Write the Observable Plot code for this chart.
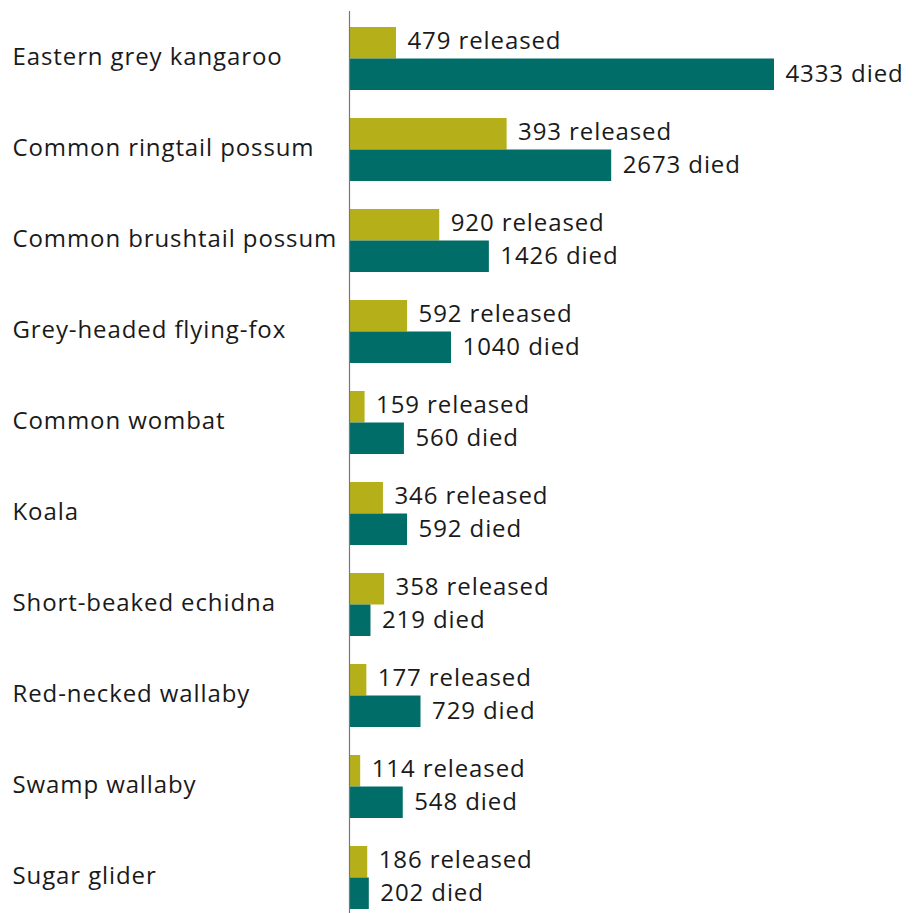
<!DOCTYPE html>
<html>
<head>
<meta charset="utf-8">
<script src="https://cdn.jsdelivr.net/npm/d3@7"></script>
<script src="https://cdn.jsdelivr.net/npm/@observablehq/plot@0.6"></script>
<style>
  html, body { margin: 0; padding: 0; background: #fff; }
  svg { display: block; }
  svg text { letter-spacing: 0.9px; }
</style>
</head>
<body>
<div id="chart"></div>
<script>
const species = ["Eastern grey kangaroo","Common ringtail possum","Common brushtail possum","Grey-headed flying-fox","Common wombat","Koala","Short-beaked echidna","Red-necked wallaby","Swamp wallaby","Sugar glider"];
const released = [479, 393, 920, 592, 159, 346, 358, 177, 114, 186];
// bar lengths as drawn in the reference (ringtail bar drawn longer than its label)
const releasedBar = [479, 1607, 920, 592, 159, 346, 358, 177, 114, 186];
const died = [4333, 2673, 1426, 1040, 560, 592, 219, 729, 548, 202];

const rows = species.map((s, i) => ({species: s, released: released[i], releasedBar: releasedBar[i], died: died[i]}));

const font = "Open Sans, sans-serif";
const fs = 24;
const half = 31.5;

const chart = Plot.plot({
  width: 922,
  height: 913,
  marginLeft: 349,
  marginRight: 0,
  marginTop: 26,
  marginBottom: 4,
  style: {fontFamily: font, fontSize: fs + "px", color: "#1a1a1a", background: "#fff"},
  x: {domain: [0, 5842], axis: null},
  y: {domain: species, paddingInner: 0.308, paddingOuter: 0, axis: null},
  marks: [
    Plot.barX(rows, {x: "releasedBar", y: "species", fill: "#b5b01a", insetBottom: half, insetTop: 0}),
    Plot.barX(rows, {x: "died", y: "species", fill: "#006d68", insetTop: half, insetBottom: 0}),
    Plot.ruleX([0], {stroke: "#777", strokeWidth: 1.2, insetTop: -15, insetBottom: -5}),
    Plot.text(rows, {x: "releasedBar", y: "species", text: d => `${d.released} released`, textAnchor: "start", dx: 11, dy: -18, fontSize: fs, fill: "#1a1a1a"}),
    Plot.text(rows, {x: "died", y: "species", text: d => `${d.died} died`, textAnchor: "start", dx: 11, dy: 15, fontSize: fs, fill: "#1a1a1a"}),
    Plot.text(rows, {y: "species", text: "species", frameAnchor: "left", textAnchor: "start", dx: -337, dy: -2, fontSize: fs, fill: "#1a1a1a"})
  ]
});
document.getElementById("chart").appendChild(chart);
</script>
</body>
</html>
